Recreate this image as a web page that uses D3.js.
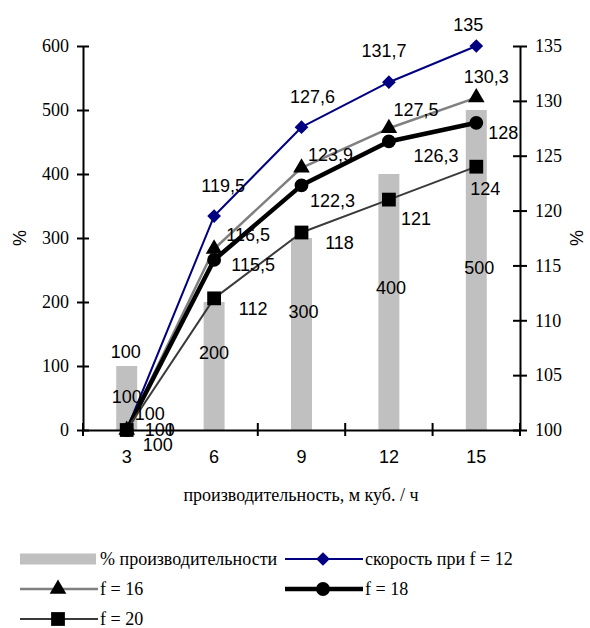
<!DOCTYPE html>
<html>
<head>
<meta charset="utf-8">
<script src="https://cdn.jsdelivr.net/npm/d3@7/dist/d3.min.js"></script>
<style>
  html, body { margin: 0; padding: 0; background: #fff; }
  svg { display: block; }
</style>
</head>
<body>
<svg id="chart" width="590" height="628"></svg>
<script>
// Производительность, м куб. / ч
const categories = [3, 6, 9, 12, 15];
// % производительности (левая ось)
const productivity = [100, 200, 300, 400, 500];
// Скорость, % (правая ось)
const speedF12 = [100, 119.5, 127.6, 131.7, 135];
const speedF16 = [100, 116.5, 123.9, 127.5, 130.3];
const speedF18 = [100, 115.5, 122.3, 126.3, 128];
const speedF20 = [100, 112, 118, 121, 124];
const leftTicks = [0, 100, 200, 300, 400, 500, 600];
const rightTicks = [100, 105, 110, 115, 120, 125, 130, 135];

const SERIF = '"Liberation Serif", "Times New Roman", "DejaVu Serif", serif';
const SANS = '"Liberation Sans", Arial, sans-serif';

const svg = d3.select("#chart");
const plot = { left: 83, right: 520, top: 46, bottom: 430 };

const x = d3.scaleBand().domain(categories).range([plot.left, plot.right]);
const yL = d3.scaleLinear().domain([0, 600]).range([plot.bottom, plot.top]);
const yR = d3.scaleLinear().domain([100, 135]).range([plot.bottom, plot.top]);
const cx = c => x(c) + x.bandwidth() / 2;

// Столбцы
const barW = x.bandwidth() * 0.24;
svg.append("g").selectAll("rect")
  .data(productivity)
  .join("rect")
  .attr("x", (d, i) => cx(categories[i]) - barW / 2)
  .attr("y", d => yL(d))
  .attr("width", barW)
  .attr("height", d => yL(0) - yL(d))
  .attr("fill", "#c0c0c0");

// Оси
const axisFont = g => g.attr("font-family", null).attr("font-size", null)
  .selectAll("text").style("font-family", SERIF).style("font-size", "18px").attr("fill", "#000");

const gL = svg.append("g").attr("transform", `translate(${plot.left},0)`)
  .call(d3.axisLeft(yL).tickValues(leftTicks).tickSize(6).tickPadding(8).tickSizeOuter(0));
gL.selectAll(".tick line").attr("x1", 6);
gL.call(axisFont);

const gR = svg.append("g").attr("transform", `translate(${plot.right},0)`)
  .call(d3.axisRight(yR).tickValues(rightTicks).tickSize(7).tickPadding(8).tickSizeOuter(0));
gR.selectAll(".tick line").attr("x1", -7);
gR.call(axisFont);

const gB = svg.append("g").attr("transform", `translate(0,${plot.bottom})`)
  .call(d3.axisBottom(x).tickSize(0).tickPadding(20).tickSizeOuter(0));
gB.attr("font-family", null).attr("font-size", null);
gB.selectAll("text").style("font-family", SANS).style("font-size", "18px").attr("fill", "#000");
// Деления на границах категорий
const bounds = categories.map(c => x(c)).concat([x(categories[categories.length - 1]) + x.step()]);
gB.selectAll("line.bnd").data(bounds).join("line").attr("class", "bnd")
  .attr("x1", d => d).attr("x2", d => d).attr("y1", -7).attr("y2", 6)
  .attr("stroke", "#000").attr("stroke-width", 2);
[gL, gR, gB].forEach(g => {
  g.select(".domain").attr("stroke", "#000").attr("stroke-width", 2);
  g.selectAll(".tick line").attr("stroke", "#000").attr("stroke-width", 2);
});

// Подписи осей
svg.append("text").style("font-family", SANS).style("font-size", "18px")
  .attr("transform", "translate(26,238) rotate(-90)").attr("text-anchor", "middle").text("%");
svg.append("text").style("font-family", SANS).style("font-size", "18px")
  .attr("transform", "translate(583,238) rotate(-90)").attr("text-anchor", "middle").text("%");
svg.append("text").style("font-family", SERIF).style("font-size", "18px")
  .attr("x", 301).attr("y", 501).attr("text-anchor", "middle")
  .text("производительность, м куб. / ч");

// Маркеры
const sym = (type, size) => d3.symbol().type(type).size(size)();
const series = [
  { name: "скорость при f = 12", values: speedF12, stroke: "#000080", width: 2, marker: sym(d3.symbolDiamond2, 120), mfill: "#000080",
    lab: [[0, -33], [9, -30], [11, -30], [-5, -32], [-8, -21]] },
  { name: "f = 16", values: speedF16, stroke: "#808080", width: 2.5, marker: sym(d3.symbolTriangle, 120), mfill: "#000",
    lab: [[23, -16], [34, -14], [29, -13], [27, -19], [10, -21]] },
  { name: "f = 18", values: speedF18, stroke: "#000", width: 4.5, marker: sym(d3.symbolCircle, 150), mfill: "#000",
    lab: [[33, 0], [39, 5], [31, 15], [47, 14], [27, 10]] },
  { name: "f = 20", values: speedF20, stroke: "#3a3a3a", width: 2, marker: sym(d3.symbolSquare, 190), mfill: "#000",
    lab: [[31, 15], [39, 10], [38, 10], [27, 19], [9, 22]] }
];

const line = d3.line().x((d, i) => cx(categories[i])).y(d => yR(d));
series.forEach(s => {
  const g = svg.append("g");
  g.append("path").attr("d", line(s.values)).attr("fill", "none")
    .attr("stroke", s.stroke).attr("stroke-width", s.width).attr("stroke-linejoin", "round");
  g.selectAll("path.m").data(s.values).join("path").attr("class", "m")
    .attr("d", s.marker).attr("fill", s.mfill)
    .attr("transform", (d, i) => `translate(${cx(categories[i])},${yR(d)})`);
});

// Подписи значений
const fmt = v => String(v).replace(".", ",");
const barLab = [[-1, -14], [0, 51], [2, 74], [2, 114], [3, 158]];
const labels = svg.append("g").attr("text-anchor", "middle");
const addLabel = (px, py, v) => labels.append("text")
  .style("font-family", SANS).style("font-size", "18px")
  .attr("x", px).attr("y", py).attr("dy", "0.35em").text(fmt(v));
productivity.forEach((v, i) => addLabel(cx(categories[i]) + barLab[i][0], yL(v) + barLab[i][1], v));
series.forEach(s => {
  s.values.forEach((v, i) => addLabel(cx(categories[i]) + s.lab[i][0], yR(v) + s.lab[i][1], v));
});

// Легенда
const leg = svg.append("g");
const legendItems = [
  { x: 20, y: 559, bar: true, name: "% производительности" },
  { x: 285, y: 559, s: series[0] },
  { x: 20, y: 589, s: series[1] },
  { x: 285, y: 589, s: series[2] },
  { x: 20, y: 619, s: series[3] }
];
legendItems.forEach(it => {
  const g = leg.append("g").attr("transform", `translate(${it.x},${it.y})`);
  if (it.bar) {
    g.append("rect").attr("x", 0).attr("y", -5.5).attr("width", 76).attr("height", 11).attr("fill", "#c0c0c0");
  } else {
    g.append("line").attr("x1", 0).attr("x2", 78).attr("y1", 0).attr("y2", 0)
      .attr("stroke", it.s.stroke).attr("stroke-width", it.s.width);
    g.append("path").attr("d", it.s.marker).attr("fill", it.s.mfill).attr("transform", "translate(38,0)");
  }
  g.append("text").style("font-family", SERIF).style("font-size", "18px")
    .attr("x", it.bar ? 80 : 80).attr("y", 0).attr("dy", "0.35em")
    .text(it.bar ? it.name : it.s.name);
});
</script>
</body>
</html>
